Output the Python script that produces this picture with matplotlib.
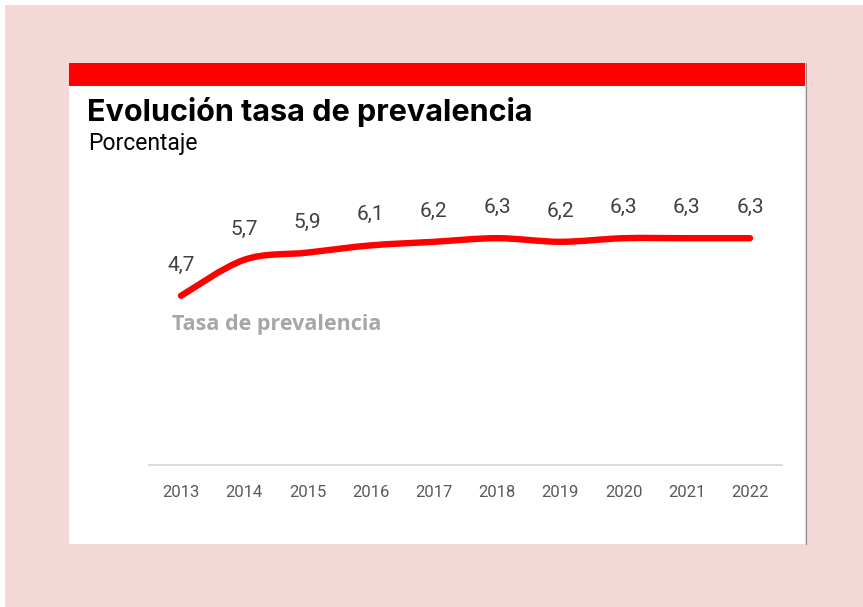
import matplotlib
matplotlib.use("Agg")
from matplotlib import pyplot as plt
from matplotlib.path import Path
from matplotlib.patches import PathPatch, Rectangle
import numpy as np

W, H = 863, 607

YEARS = ['2013', '2014', '2015', '2016', '2017', '2018', '2019', '2020', '2021', '2022']
PREVALENCE = [4.7, 5.7, 5.9, 6.1, 6.2, 6.3, 6.2, 6.3, 6.3, 6.3]
SERIES_NAME = 'Tasa de prevalencia'
TITLE = 'Evolución tasa de prevalencia'
SUBTITLE = 'Porcentaje'

RED = '#ff0000'
PINK = '#f4d8d8'


def px(x, y):
    # pixel coords (from top-left) -> figure fraction
    return x / W, 1 - y / H


def smooth_path(xs, ys):
    # excel-ish smoothed line: cubic bezier, catmull-rom tangents
    pts = np.column_stack([xs, ys]).astype(float)
    n = len(pts)
    verts = [pts[0]]
    codes = [Path.MOVETO]
    for i in range(n - 1):
        p0 = pts[max(i - 1, 0)]
        p1 = pts[i]
        p2 = pts[i + 1]
        p3 = pts[min(i + 2, n - 1)]
        c1 = p1 + (p2 - p0) / 6
        c2 = p2 - (p3 - p1) / 6
        verts += [c1, c2, p2]
        codes += [Path.CURVE4] * 3
    return Path(verts, codes)


fig = plt.figure(figsize=(W / 100, H / 100), dpi=100)
fig.patch.set_facecolor('white')

# pink background, white card, red band on top
fig.patches.append(Rectangle(px(5, 607), (W - 5) / W, (H - 5) / H,
                             transform=fig.transFigure, facecolor=PINK, edgecolor='none', zorder=-3))
fig.patches.append(Rectangle(px(69, 544), (805 - 69) / W, (544 - 63) / H,
                             transform=fig.transFigure, facecolor='white', edgecolor='none', zorder=-2))
fig.patches.append(Rectangle(px(69, 86), (805 - 69) / W, (86 - 63) / H,
                             transform=fig.transFigure, facecolor=RED, edgecolor='none', zorder=-1))
fig.add_artist(plt.Line2D([805.5 / W, 805.5 / W], [1 - 63 / H, 1 - 544 / H],
                          transform=fig.transFigure, color='#8c8c8c', lw=0.8))

fig.text(*px(87, 121), TITLE, fontsize=22, fontweight='bold', family='Inter',
         color='black', va='baseline', ha='left')
fig.text(*px(88, 150), SUBTITLE, fontsize=16.5, family='Roboto',
         color='black', va='baseline', ha='left')

# plot area: xlim -0.5..9.5 -> 149..782 px, y 0 at 465 px, 36 px per unit
left, right = 149.4, 781.6
bottom, top = 465, 465 - 7 * 36
ax = fig.add_axes([left / W, 1 - bottom / H, (right - left) / W, (bottom - top) / H])
ax.set_facecolor('none')
ax.set_xlim(-0.5, len(YEARS) - 0.5)
ax.set_ylim(0, 7)

x = np.arange(len(YEARS))
ax.add_patch(PathPatch(smooth_path(x, PREVALENCE), facecolor='none', edgecolor=RED,
                       lw=4.6, capstyle='round', joinstyle='round', clip_on=False))

for xi, v in zip(x, PREVALENCE):
    ax.annotate(f'{v:.1f}'.replace('.', ','), (xi, v), xytext=(0, 22), textcoords='offset points',
                ha='center', va='center', fontsize=15, family='Roboto', color='#404040')

ax.text(-0.14, 3.75, SERIES_NAME, fontsize=15.5, fontweight='bold', family='Open Sans',
        color='#a6a6a6', ha='left', va='baseline')

for s in ['left', 'right', 'top']:
    ax.spines[s].set_visible(False)
ax.spines['bottom'].set_color('#d9d9d9')
ax.spines['bottom'].set_linewidth(1.3)
ax.set_yticks([])
ax.set_xticks(x)
ax.set_xticklabels(YEARS, family='Roboto', fontsize=12, color='#595959')
ax.tick_params(axis='x', length=0, pad=14.5)

fig.savefig('out.png', dpi=100)
